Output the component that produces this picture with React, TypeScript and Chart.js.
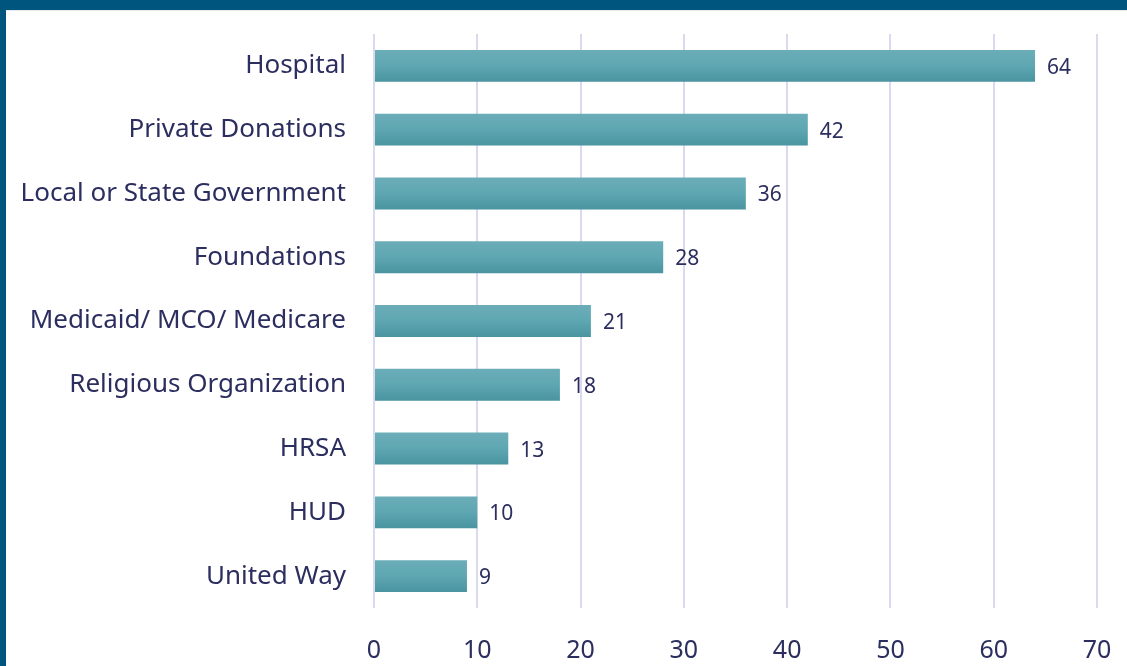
import React, { useEffect, useRef } from "react";
import { Chart, registerables } from "chart.js";

Chart.register(...registerables);

const categories = [
  "Hospital",
  "Private Donations",
  "Local or State Government",
  "Foundations",
  "Medicaid/ MCO/ Medicare",
  "Religious Organization",
  "HRSA",
  "HUD",
  "United Way",
];
const counts = [64, 42, 36, 28, 21, 18, 13, 10, 9];
const xTicks = [0, 10, 20, 30, 40, 50, 60, 70];

const TEXT = "#2b2e5e";
const FONT = "'Noto Sans', 'Open Sans', sans-serif";

const valueLabels = {
  id: "valueLabels",
  afterDatasetsDraw(chart: any) {
    const ctx = chart.ctx;
    const meta = chart.getDatasetMeta(0);
    ctx.save();
    ctx.fillStyle = TEXT;
    ctx.font = `21px ${FONT}`;
    ctx.textBaseline = "middle";
    ctx.textAlign = "left";
    meta.data.forEach((bar: any, i: number) => {
      ctx.fillText(String(counts[i]), bar.x + 12, bar.y + 2);
    });
    ctx.restore();
  },
};

export default function App() {
  const ref = useRef<HTMLCanvasElement>(null);
  useEffect(() => {
    document.body.style.margin = "0";
    const chart = new Chart(ref.current!, {
      type: "bar",
      data: {
        labels: categories,
        datasets: [
          {
            data: counts,
            barPercentage: 0.5,
            categoryPercentage: 1,
            backgroundColor: (c: any) => {
              const chart = c.chart;
              const y = chart.scales?.y;
              if (!y || c.dataIndex === undefined) return "#5ea8b3";
              const center = y.getPixelForValue(c.dataIndex);
              const h = (y.height / categories.length) * 0.5;
              if (!isFinite(center) || !isFinite(h) || h <= 0) return "#5ea8b3";
              const g = chart.ctx.createLinearGradient(0, center - h / 2, 0, center + h / 2);
              g.addColorStop(0, "#6badb8");
              g.addColorStop(0.5, "#5ea7b2");
              g.addColorStop(1, "#4994a0");
              return g;
            },
            borderWidth: 0,
          },
        ],
      },
      options: {
        indexAxis: "y",
        animation: false,
        responsive: false,
        maintainAspectRatio: false,
        layout: { padding: { top: 23, right: 30, left: 0, bottom: 0 } },
        plugins: { legend: { display: false }, tooltip: { enabled: false } },
        scales: {
          x: {
            min: 0,
            max: 70,
            afterBuildTicks: (s: any) => {
              s.ticks = xTicks.map((v) => ({ value: v }));
            },
            afterFit: (s: any) => {
              s.height = 58;
              s.paddingLeft = 0;
              s.paddingRight = 0;
            },
            grid: { color: "#d9d9ef", lineWidth: 2, drawTicks: false },
            border: { display: false },
            ticks: {
              color: TEXT,
              font: { family: FONT, size: 25 },
              padding: 28,
            },
          },
          y: {
            afterFit: (s: any) => {
              s.width = 368;
              s.paddingTop = 0;
              s.paddingBottom = 0;
            },
            grid: { display: false, drawTicks: false },
            border: { display: false },
            ticks: {
              color: TEXT,
              font: { family: FONT, size: 26 },
              padding: 28,
            },
          },
        },
      },
      plugins: [valueLabels],
    } as any);
    return () => chart.destroy();
  }, []);
  return (
    <div
      style={{
        position: "fixed",
        left: 0,
        top: 0,
        width: 1127,
        height: 666,
        background: "#00557f",
      }}
    >
      <div
        style={{
          position: "absolute",
          left: 6,
          top: 10,
          width: 1121,
          height: 656,
          background: "#ffffff",
          borderTop: "1px solid #e6e9ee",
          boxSizing: "border-box",
        }}
      >
        <canvas
          ref={ref}
          width={1121}
          height={655}
          style={{ display: "block", width: 1121, height: 655 }}
        />
      </div>
    </div>
  );
}
